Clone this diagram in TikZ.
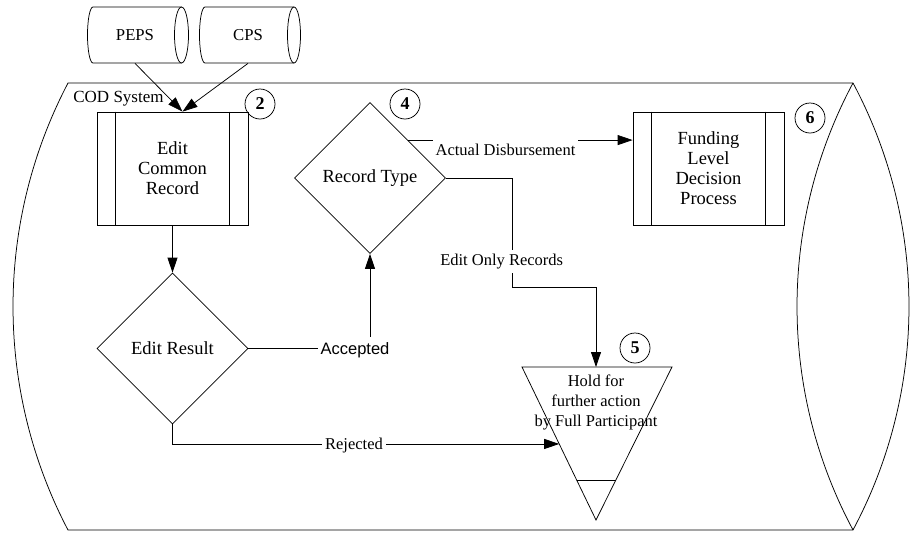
\documentclass[tikz,border=0pt]{standalone}
\usepackage{fontspec}
\setmainfont{Liberation Serif}
\newfontfamily\labelsans{Liberation Sans}
\usetikzlibrary{arrows.meta,shapes.geometric,calc}
\begin{document}
\begin{tikzpicture}[x=1pt,y=-1pt,
  line width=0.75pt,
  every node/.style={inner sep=0pt},
  arr/.style={-{Triangle[length=15pt,width=10pt]}},
  proc/.style={draw, rectangle, minimum width=151pt, minimum height=113pt,
    align=center, font=\fontsize{18.5}{20}\selectfont},
  decision/.style={draw, diamond, minimum width=151pt, minimum height=151pt,
    font=\fontsize{18.5}{20}\selectfont},
  stepnum/.style={draw, circle, minimum size=30pt,
    font=\fontsize{18}{18}\selectfont\bfseries},
  flowlabel/.style={fill=white, inner xsep=3pt, inner ysep=5pt,
    font=\fontsize{16.5}{20}\selectfont},
  store/.style={minimum width=80pt, minimum height=56pt,
    font=\fontsize{16.7}{20}\selectfont}]
\useasboundingbox (0,0) rectangle (911,539);

% system boundary: curved left side, lens-shaped right end
\draw (68,83) -- (853,83)
  arc[start angle=-28.13, end angle=28.13, radius=474]
  -- (68,530)
  arc[start angle=152.35, end angle=207.65, radius=481.6] -- cycle;
\draw (853,83) arc[start angle=208.13, end angle=151.87, radius=474];
\node[anchor=base west, font=\fontsize{17}{20}\selectfont] (cod) at (73,102) {COD System};

% external data stores
\node[store] (peps) at (135,35) {PEPS};
\draw (181.5,35) ellipse[x radius=7, y radius=28];
\draw (181.5,7) -- (93,7) arc[start angle=270, end angle=90, x radius=5.5, y radius=28] -- (181.5,63);
\node[store] (cps) at (248,35) {CPS};
\draw (294,35) ellipse[x radius=6.5, y radius=28];
\draw (294,7) -- (205,7) arc[start angle=270, end angle=90, x radius=5.5, y radius=28] -- (294,63);

% processes
\node[proc] (ecr) at (172.5,168.5) {Edit\\Common\\Record};
\node[proc] (fund) at (708.5,168.5) {Funding\\Level\\Decision\\Process};
\foreach \n in {ecr,fund} {
  \draw ([xshift=19pt]\n.north west) -- ([xshift=19pt]\n.south west);
  \draw ([xshift=-19pt]\n.north east) -- ([xshift=-19pt]\n.south east);
}

% decisions
\node[decision] (er) at (172.5,348.5) {Edit Result};
\node[decision] (rt) at (370,178) {Record Type};

% holding area (inverted triangle)
\coordinate (h-tl) at (522,367);
\coordinate (h-tr) at (672,367);
\coordinate (h-b) at (596,520);
\draw (h-tl) -- (h-tr) -- (h-b) -- cycle;
\draw ($(h-tl)!0.739!(h-b)$) -- ($(h-tr)!0.739!(h-b)$);
\node[align=center, font=\fontsize{16.5}{20}\selectfont] (hold) at (596,402)
  {Hold for\\further action\\by Full Participant};
\coordinate (h-top) at (596,367);
\coordinate (h-in) at ($(h-tl)!0.503!(h-b)$);

% step numbers
\node[stepnum] (n2) at (260,104) {2};
\node[stepnum] (n4) at (405,104) {4};
\node[stepnum] (n5) at (635,348) {5};
\node[stepnum] (n6) at (810,118) {6};

% flows
\coordinate (ecr-in) at ([xshift=10pt]ecr.north);
\draw[arr] (peps.south) -- (ecr-in);
\draw[arr] (cps.south) -- (ecr-in);
\draw[arr] (ecr.south) -- (er.north);
\draw[arr] (er.east) -| (rt.south);
\draw[arr] (rt.north east) -- (rt.north east -| fund.west);
\coordinate (eo-bend) at (512,287);
\draw[arr] (rt.east) -| (eo-bend) -| (h-top);
\draw[arr] (er.south) |- (h-in);

% flow labels
\node[flowlabel, anchor=base, inner ysep=6pt] (l-ad) at (505.5,155) {Actual Disbursement};
\node[flowlabel, anchor=base, inner ysep=4pt] (l-eo) at (501.7,265) {Edit Only Records};
\node[flowlabel, anchor=base, font=\labelsans\fontsize{16.5}{20}\selectfont] (l-acc) at (355,354) {Accepted};
\node[flowlabel, anchor=base] (l-rej) at (354,449) {Rejected};
\end{tikzpicture}
\end{document}
